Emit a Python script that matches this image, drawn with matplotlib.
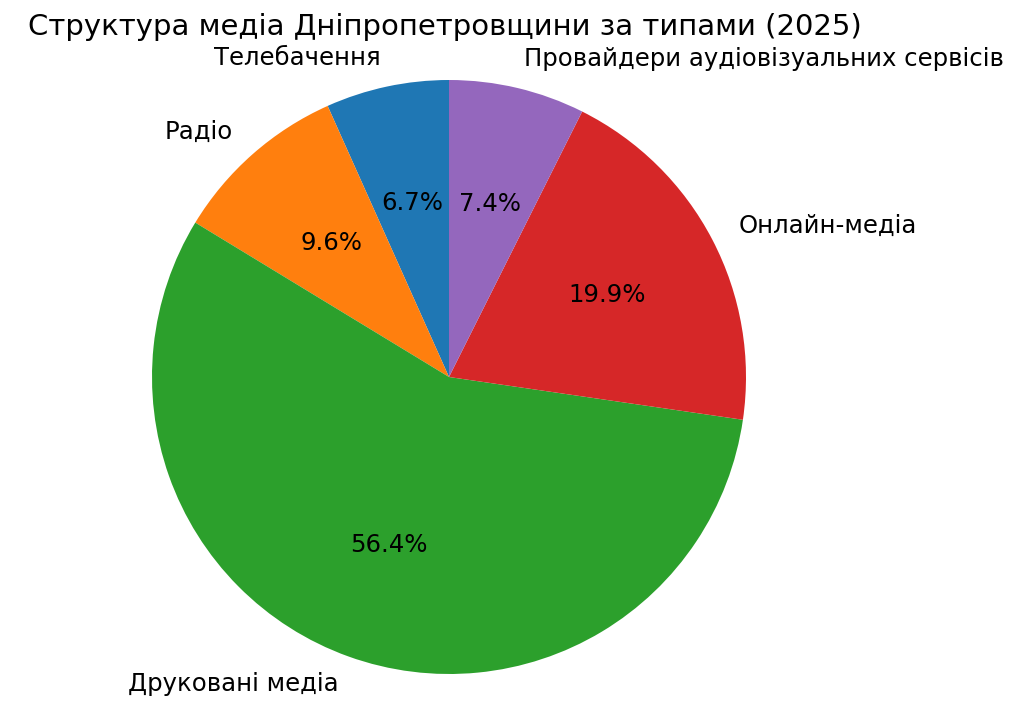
import matplotlib.pyplot as plt

# media structure by type
labels = ['Телебачення', 'Радіо', 'Друковані медіа', 'Онлайн-медіа',
          'Провайдери аудіовізуальних сервісів']
shares = [6.7, 9.6, 56.4, 19.9, 7.4]
colors = ['#1f77b4', '#ff7f0e', '#2ca02c', '#d62728', '#9467bd']
title = 'Структура медіа Дніпропетровщини за типами (2025)'

fig = plt.figure(figsize=(10.24, 7.18), dpi=100)
ax = fig.add_axes([0, 0, 1, 1])
ax.pie(shares, labels=labels, colors=colors, autopct='%1.1f%%', startangle=90,
       textprops={'fontsize': 17.6})

# centre of pie at (449, 377) px, radius 297 px
r = 297.0
ax.set_xlim(-449 / r, (1024 - 449) / r)
ax.set_ylim(-(718 - 377) / r, 377 / r)
ax.set_aspect('auto')
ax.axis('off')

fig.text(28 / 1024, 1 - 27 / 718, title, fontsize=21, ha='left', va='center')

fig.savefig('out.png', dpi=100)
